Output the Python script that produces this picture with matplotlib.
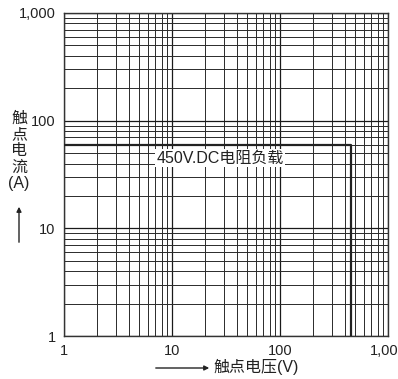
import matplotlib.pyplot as plt
import numpy as np

plt.rcParams['font.family'] = ['Liberation Sans', 'Noto Sans CJK SC', 'DejaVu Sans']

# 450V DC 电阻负载 boundary
voltage = [1, 450, 450]
current = [60, 60, 1]
label = "450V.DC电阻负载"
label_pos = (28, 45)

xticks = [1, 10, 100, 1000]
xticklabels = ["1", "10", "100", "1,000"]
yticks = [1, 10, 100, 1000]
yticklabels = ["1", "10", "100", "1,000"]

def main():
	fig = plt.figure(figsize=(3.98, 3.79), dpi=100)
	ax = fig.add_axes([64/398, 1-336/379, 324/398, 323/379])
	ax.set_xscale("log")
	ax.set_yscale("log")
	ax.set_xlim(1, 1000)
	ax.set_ylim(1, 1000)

	ax.set_xticks(xticks)
	ax.set_xticklabels(xticklabels)
	ax.set_yticks(yticks)
	ax.set_yticklabels(yticklabels)
	ax.tick_params(which="both", length=0, labelsize=10.5, colors="#222222", pad=6)
	ax.grid(which="major", color="#1a1a1a", lw=0.9)
	ax.grid(which="minor", color="#2a2a2a", lw=0.7)
	for s in ax.spines.values():
		s.set_color("#333333")
		s.set_linewidth(1.0)

	ax.plot(voltage, current, color="#222222", lw=1.6, zorder=3)
	ax.text(label_pos[0], label_pos[1], label, fontsize=11.5, color="#222222",
		ha="center", va="center", zorder=4,
		bbox=dict(facecolor="white", edgecolor="none", pad=1.0))

	# y axis label with arrow
	fig.text(19/398, 1-151/379, "触\n点\n电\n流\n(A)", fontsize=11.5, color="#222222",
		ha="center", va="center", linespacing=1.1)
	ax.annotate("", xy=(19/398, 1-204/379), xytext=(19/398, 1-245/379), xycoords="figure fraction",
		arrowprops=dict(arrowstyle="-|>", color="#222222", lw=1.0, mutation_scale=7))

	# x axis label with arrow
	ax.annotate("", xy=(212/398, 1-368/379), xytext=(153/398, 1-368/379), xycoords="figure fraction",
		arrowprops=dict(arrowstyle="-|>", color="#222222", lw=1.0, mutation_scale=7))
	fig.text(214/398, 1-367/379, "触点电压(V)", fontsize=11.5, color="#222222",
		ha="left", va="center")

	plt.savefig("out.png", dpi=100)
	plt.close(fig)

if __name__=="__main__":
	main()
